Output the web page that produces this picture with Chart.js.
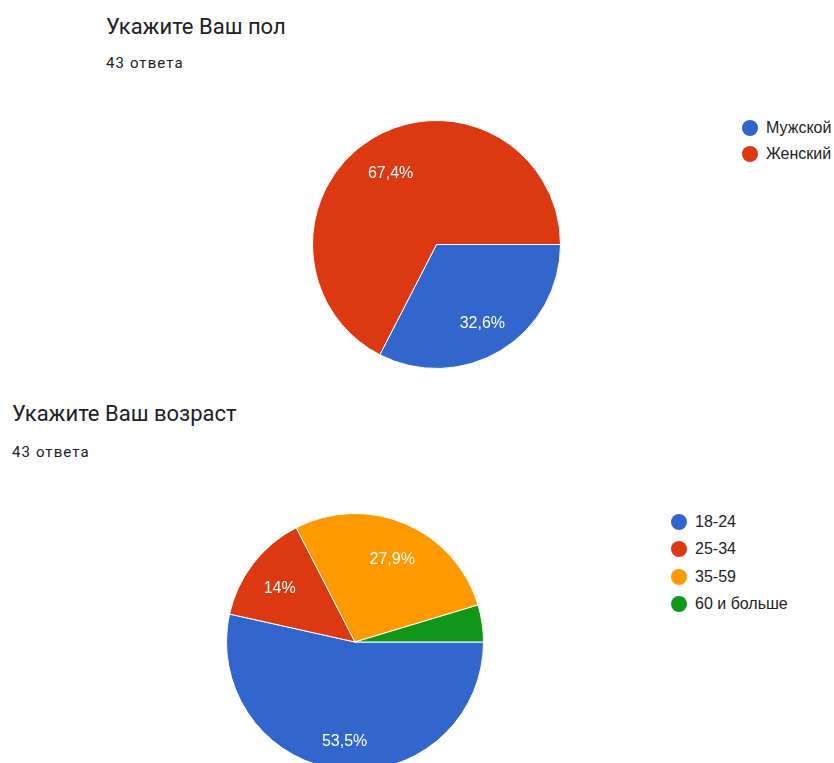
<!DOCTYPE html>
<html>
<head>
<meta charset="utf-8">
<script src="https://cdn.jsdelivr.net/npm/chart.js@4"></script>
<style>
  html, body { margin: 0; padding: 0; background: #fff; }
  body { width: 834px; height: 763px; overflow: hidden; position: relative; font-family: Roboto, "Noto Sans", sans-serif; }
  .title { position: absolute; font-size: 22px; color: #202124; white-space: nowrap; }
  .sub { position: absolute; font-size: 15px; letter-spacing: 1.1px; color: #202124; white-space: nowrap; }
  .box { position: absolute; }
  .legend { position: absolute; font-family: "Liberation Sans", Arial, sans-serif; font-size: 16px; color: #222; }
  .legend div { display: flex; align-items: center; white-space: nowrap; }
  .legend span.dot { display: inline-block; width: 16px; height: 16px; border-radius: 50%; margin-right: 8px; }
</style>
</head>
<body>
<div class="title" style="left:106px; top:14px;">Укажите Ваш пол</div>
<div class="sub" style="left:106px; top:54px;">43 ответа</div>
<div class="box" style="left:312px; top:120px; width:249px; height:249px;"><canvas id="genderChart"></canvas></div>
<div class="legend" id="genderLegend" style="left:742px; top:115px;"></div>

<div class="title" style="left:12px; top:401px;">Укажите Ваш возраст</div>
<div class="sub" style="left:12px; top:443px;">43 ответа</div>
<div class="box" style="left:226px; top:513px; width:258px; height:258px;"><canvas id="ageChart"></canvas></div>
<div class="legend" id="ageLegend" style="left:671px; top:508px;"></div>

<script>
const genderLabels = ["Мужской", "Женский"];
const genderCounts = [14, 29];
const genderColors = ["#3366cc", "#dc3912"];

const ageLabels = ["18-24", "25-34", "35-59", "60 и больше"];
const ageCounts = [23, 6, 12, 2];
const ageColors = ["#3366cc", "#dc3912", "#ff9900", "#109618"];

function pct(v, total) {
  // Russian style: comma decimal, drop ".0"
  let s = (v / total * 100).toFixed(1);
  if (s.endsWith(".0")) s = s.slice(0, -2);
  return s.replace(".", ",") + "%";
}

// draws the percentage inside each slice (no datalabels plugin available)
const sliceLabels = {
  id: "sliceLabels",
  afterDatasetsDraw(chart, args, opts) {
    const ctx = chart.ctx;
    const data = chart.data.datasets[0].data;
    const total = data.reduce((a, b) => a + b, 0);
    const meta = chart.getDatasetMeta(0);
    ctx.save();
    ctx.fillStyle = "#fff";
    ctx.font = "16px 'Liberation Sans', Arial, sans-serif";
    ctx.textAlign = "center";
    ctx.textBaseline = "middle";
    meta.data.forEach((arc, i) => {
      if (data[i] / total < 0.05) return;
      const mid = (arc.startAngle + arc.endAngle) / 2;
      const r = arc.outerRadius * (opts.factor || 0.72);
      ctx.fillText(pct(data[i], total), arc.x + Math.cos(mid) * r, arc.y + Math.sin(mid) * r + (opts.dy || 0));
    });
    ctx.restore();
  },
};

function makePie(id, labels, counts, colors, factor, dy) {
  const ctx = document.getElementById(id).getContext("2d");
  return new Chart(ctx, {
    type: "pie",
    data: {
      labels: labels,
      datasets: [
        {
          data: counts,
          backgroundColor: colors,
          borderColor: "#fff",
          borderWidth: 1,
          hoverOffset: 0,
        },
      ],
    },
    options: {
      responsive: true,
      maintainAspectRatio: false,
      animation: false,
      rotation: 90, // start at 3 o'clock like Google Forms
      layout: { padding: 0 },
      plugins: {
        legend: { display: false },
        tooltip: { enabled: false },
        sliceLabels: { factor: factor, dy: dy },
      },
    },
    plugins: [sliceLabels],
  });
}

function makeLegend(id, labels, colors, gap) {
  const el = document.getElementById(id);
  labels.forEach((l, i) => {
    const row = document.createElement("div");
    row.style.height = gap + "px";
    row.innerHTML = '<span class="dot" style="background:' + colors[i] + '"></span>' + l;
    el.appendChild(row);
  });
}

makePie("genderChart", genderLabels, genderCounts, genderColors, 0.71, 4);
makePie("ageChart", ageLabels, ageCounts, ageColors, 0.74, 5);
makeLegend("genderLegend", genderLabels, genderColors, 26);
makeLegend("ageLegend", ageLabels, ageColors, 27.5);
</script>
</body>
</html>
